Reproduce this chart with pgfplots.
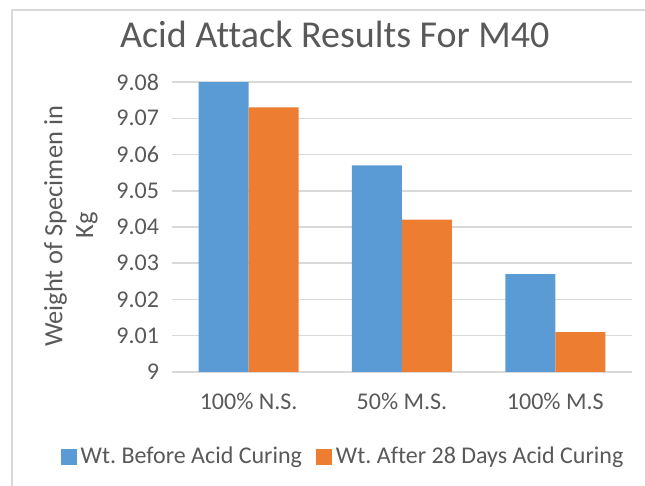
\documentclass[border=0pt]{standalone}
\usepackage{fontspec}
\setmainfont{Carlito}[Ligatures=NoCommon]
\usepackage{pgfplots}
\pgfplotsset{compat=1.18}
\definecolor{xblue}{HTML}{5B9BD5}
\definecolor{xorange}{HTML}{ED7D31}
\definecolor{xgrid}{HTML}{D9D9D9}
\definecolor{xtext}{HTML}{595959}
\frenchspacing
\begin{document}
\begin{tikzpicture}
\useasboundingbox (0,0) rectangle (322.5pt,243pt);
\draw[xgrid, line width=0.6pt] (6pt,0) -- (6pt,238pt) -- (322.5pt,238pt);
\begin{axis}[
  at={(86pt,57pt)}, anchor=south west,
  scale only axis, width=230pt, height=145pt,
  clip=false,
  ybar, bar width=25pt, ybar=0pt,
  xmin=-0.5, xmax=2.5, ymin=9, ymax=9.08,
  xtick={0,1,2}, xticklabels={100\% N.S., 50\% M.S., 100\% M.S},
  ytick={9,9.01,9.02,9.03,9.04,9.05,9.06,9.07,9.08},
  yticklabels={9,9.01,9.02,9.03,9.04,9.05,9.06,9.07,9.08},
  major tick length=0pt,
  axis line style={draw=none},
  ymajorgrids, grid style={xgrid, line width=0.75pt},
  /pgf/number format/assume math mode=true,
  tick label style={font=\fontsize{12}{14}\selectfont, text=xtext},
  yticklabel style={xshift=-3pt},
  xticklabel style={yshift=-7pt},
  title={Acid Attack Results For M40},
  title style={at={(axis description cs:0.354,1.124)}, anchor=center,
    font=\fontsize{19}{21}\selectfont, text=xtext},
  legend style={at={(0.374,-0.293)}, anchor=center, draw=none, legend columns=2,
    font=\fontsize{12}{14}\selectfont, text=xtext,
    /tikz/every even column/.append style={column sep=5pt}},
  legend image code/.code={\fill[#1] (0pt,-4pt) rectangle (8pt,4pt);},
]
\addplot[fill=xblue, draw=none] coordinates {(0,9.080) (1,9.057) (2,9.027)};
\addplot[fill=xorange, draw=none] coordinates {(0,9.073) (1,9.042) (2,9.011)};
\legend{Wt. Before Acid Curing, Wt. After 28 Days Acid Curing}
\node[rotate=90, anchor=center, inner sep=0pt, font=\fontsize{13.2}{15}\selectfont, text=xtext]
  at (axis description cs:-0.2533,0.502) {Weight of Specimen in};
\node[rotate=90, anchor=center, inner sep=0pt, font=\fontsize{13.2}{15}\selectfont, text=xtext]
  at (axis description cs:-0.1848,0.505) {Kg};
\end{axis}
\end{tikzpicture}
\end{document}
